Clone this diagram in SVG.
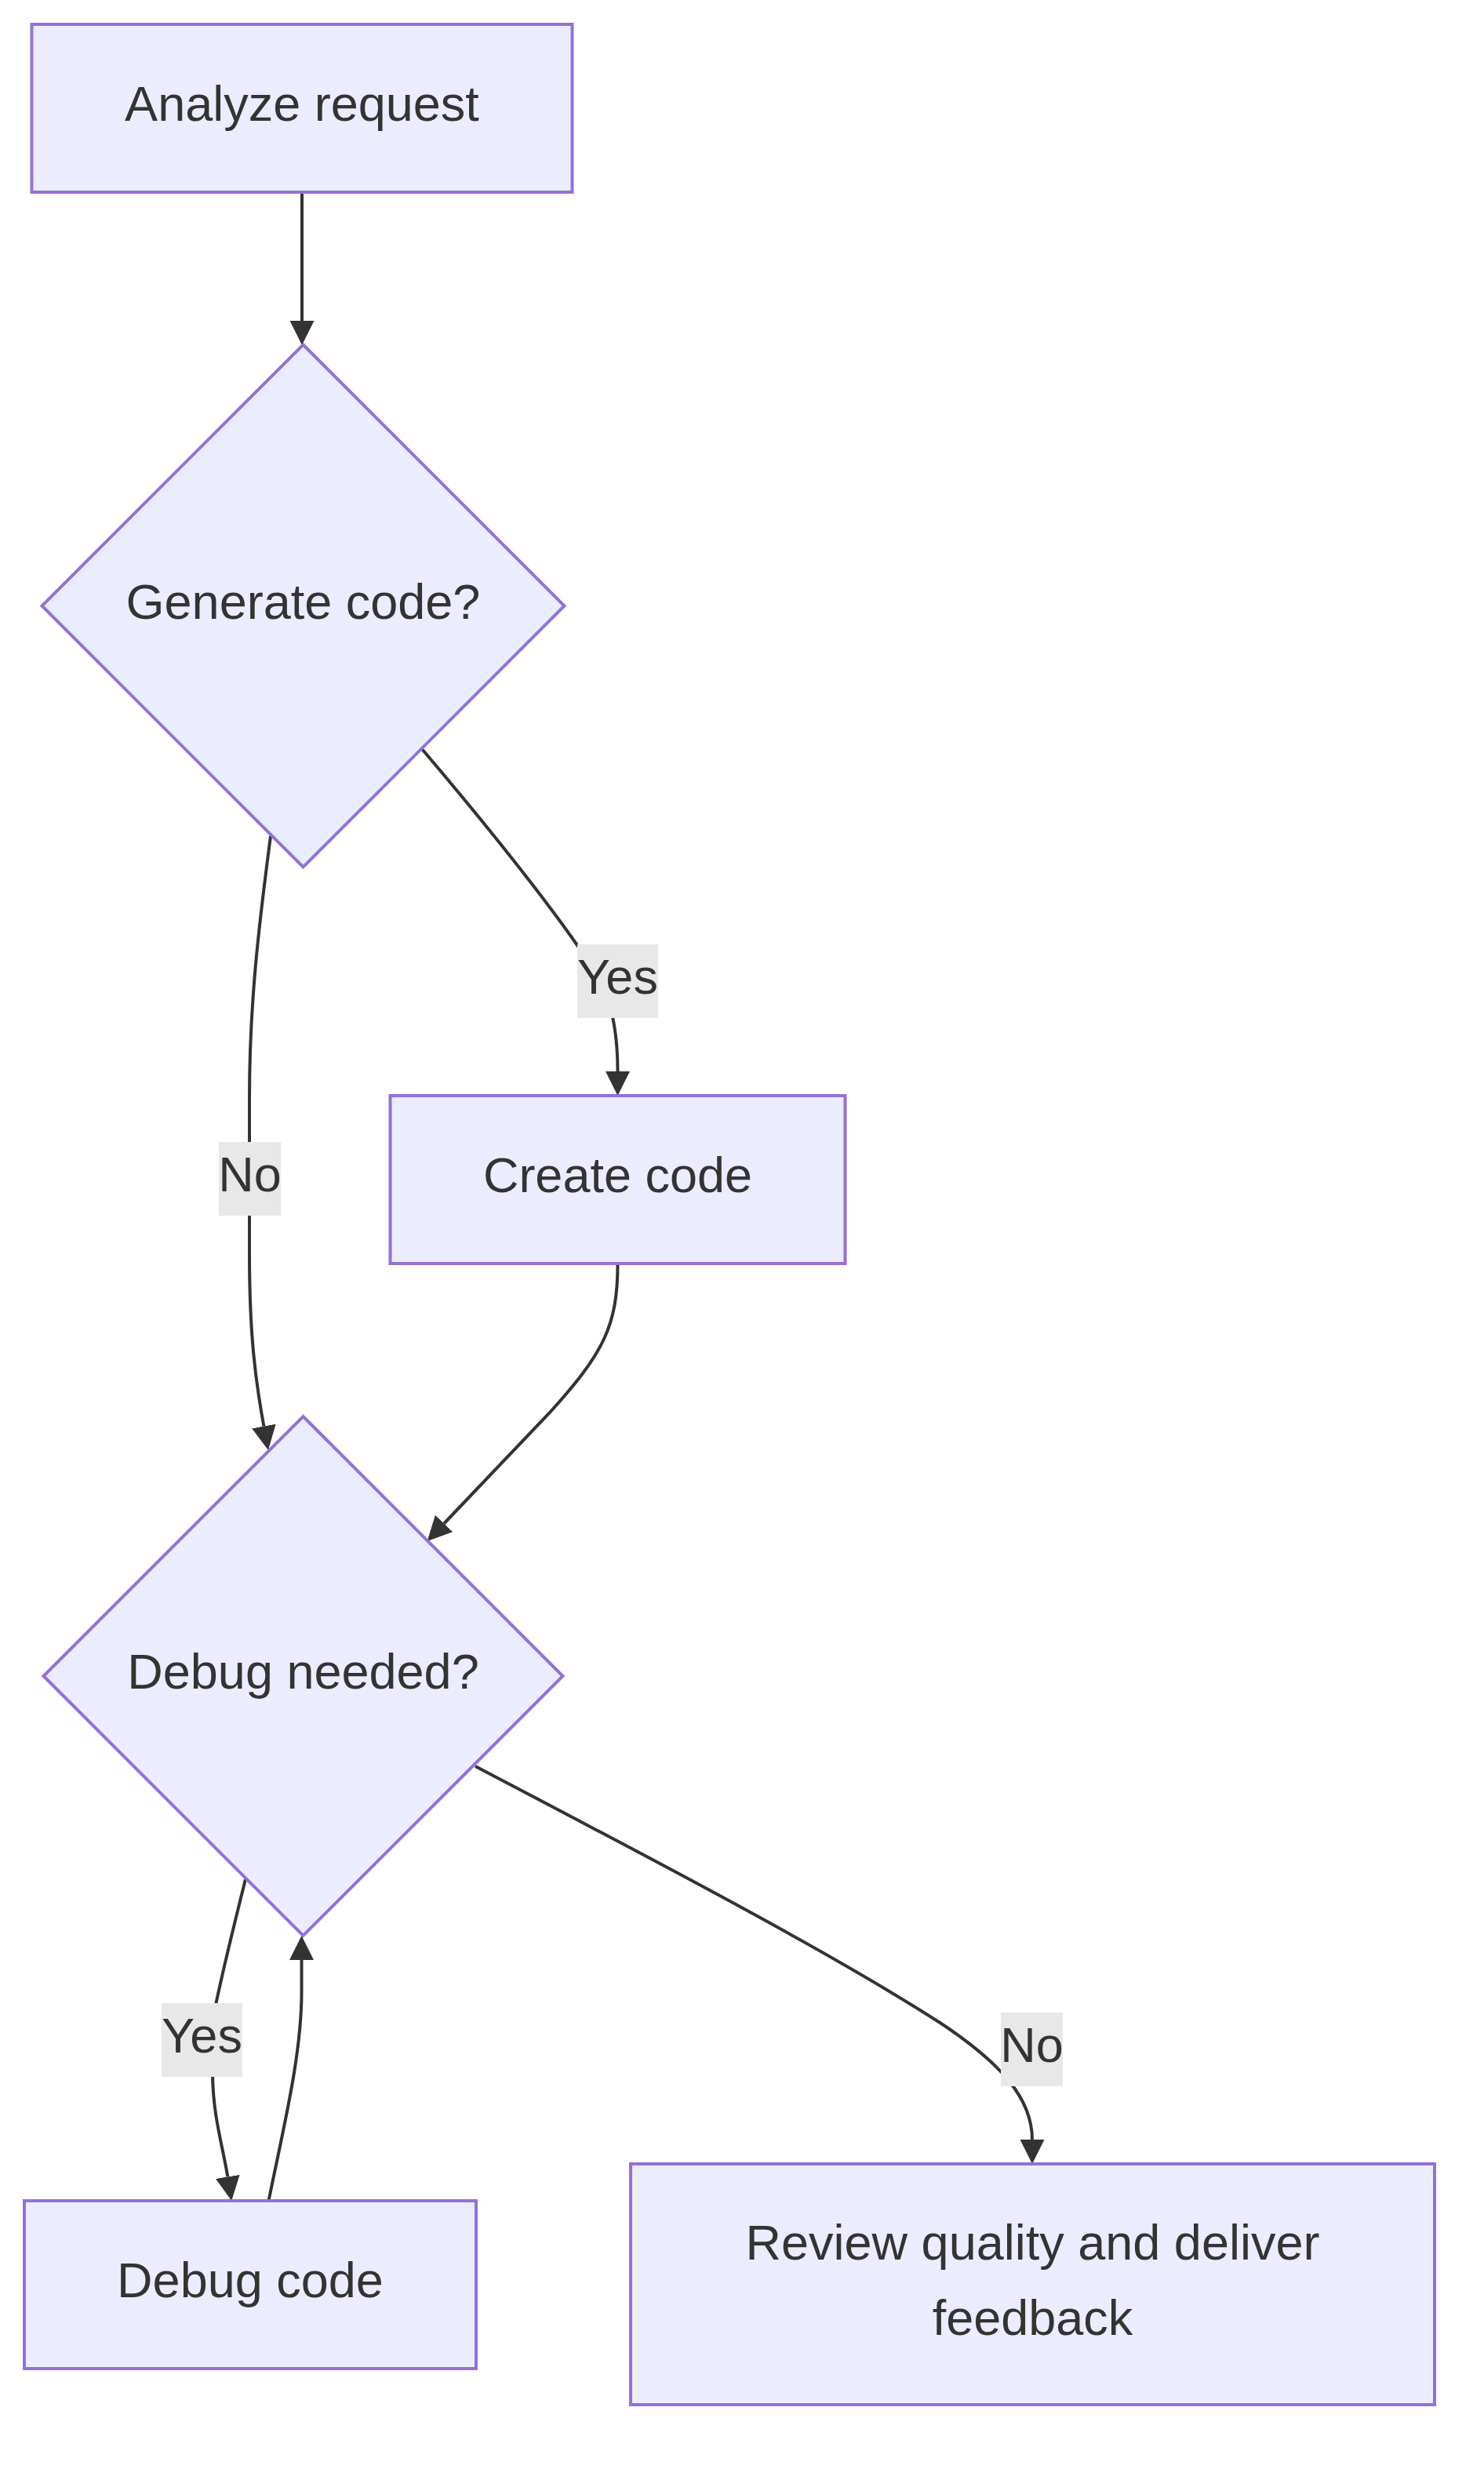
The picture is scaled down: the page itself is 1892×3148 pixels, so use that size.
<svg xmlns="http://www.w3.org/2000/svg" width="1892" height="3148" viewBox="0 0 1892 3148">
<style>
.node{fill:#ECECFF;stroke:#9370DB;stroke-width:4}
.lbl{font-family:"Liberation Sans",Arial,sans-serif;font-size:63px;fill:#333333;text-anchor:middle}
.edge{fill:none;stroke:#333333;stroke-width:4}
.ebg{fill:#E8E8E8}
</style>
<defs>
<marker id="arrow" viewBox="0 0 10 10" refX="0" refY="5" markerUnits="userSpaceOnUse" markerWidth="31" markerHeight="31" orient="auto">
<path d="M0,0 L10,5 L0,10 z" fill="#333333"/>
</marker>
</defs>
<rect width="1892" height="3148" fill="#FFFFFF"/>
<g id="connectors">
<path class="edge" marker-end="url(#arrow)" d="M385,245 L385,409"/>
<path class="edge" marker-end="url(#arrow)" d="M538,955 C640,1075 730,1190 765,1250 C783,1285 787.5,1330 787.5,1366"/>
<path class="edge" marker-end="url(#arrow)" d="M345,1066 C330,1180 318,1280 318,1400 L318,1600 C318,1700 325.6,1760 336.4,1818.5"/>
<path class="edge" marker-end="url(#arrow)" d="M787.5,1611 C787.5,1690 770,1725 700,1802 L566.1,1942.5"/>
<path class="edge" marker-end="url(#arrow)" d="M313,2396 C301,2444 283,2518 275.5,2554 C272,2575 270,2615 271,2647 C272,2700 283.9,2736 290.3,2775.4"/>
<path class="edge" marker-end="url(#arrow)" d="M342.5,2806 C362,2710 384.5,2620 384.5,2540 L384.5,2499"/>
<path class="edge" marker-end="url(#arrow)" d="M606,2252 C850,2380 1060,2490 1200,2580 C1275,2630 1316,2675 1316,2728"/>
</g>
<g id="edge-labels">
<g id="label-yes-1"><rect class="ebg" x="736" y="1204" width="103" height="94"/><text class="lbl" x="787.5" y="1267">Yes</text></g>
<g id="label-no-1"><rect class="ebg" x="279" y="1456" width="79" height="94"/><text class="lbl" x="318.5" y="1519">No</text></g>
<g id="label-yes-2"><rect class="ebg" x="206" y="2554" width="103" height="94"/><text class="lbl" x="257.5" y="2617">Yes</text></g>
<g id="label-no-2"><rect class="ebg" x="1276" y="2566" width="79" height="94"/><text class="lbl" x="1315.5" y="2629">No</text></g>
</g>
<g id="node-analyze"><rect class="node" x="40.5" y="31" width="689" height="214"/><text class="lbl" x="385" y="154">Analyze request</text></g>
<g id="node-generate"><polygon class="node" points="386.5,439.5 719.5,772.5 386.5,1105.5 53.5,772.5"/><text class="lbl" x="386.5" y="789">Generate code?</text></g>
<g id="node-create"><rect class="node" x="497.5" y="1397" width="580" height="214"/><text class="lbl" x="787.5" y="1520">Create code</text></g>
<g id="node-debugq"><polygon class="node" points="386.5,1806 717.5,2137 386.5,2468 55.5,2137"/><text class="lbl" x="386.5" y="2153">Debug needed?</text></g>
<g id="node-debug"><rect class="node" x="31" y="2806" width="576" height="214"/><text class="lbl" x="319" y="2929">Debug code</text></g>
<g id="node-review"><rect class="node" x="804" y="2759" width="1025" height="307"/><text class="lbl" x="1316.5" y="2880.5">Review quality and deliver</text><text class="lbl" x="1316.5" y="2976.5">feedback</text></g>
</svg>
